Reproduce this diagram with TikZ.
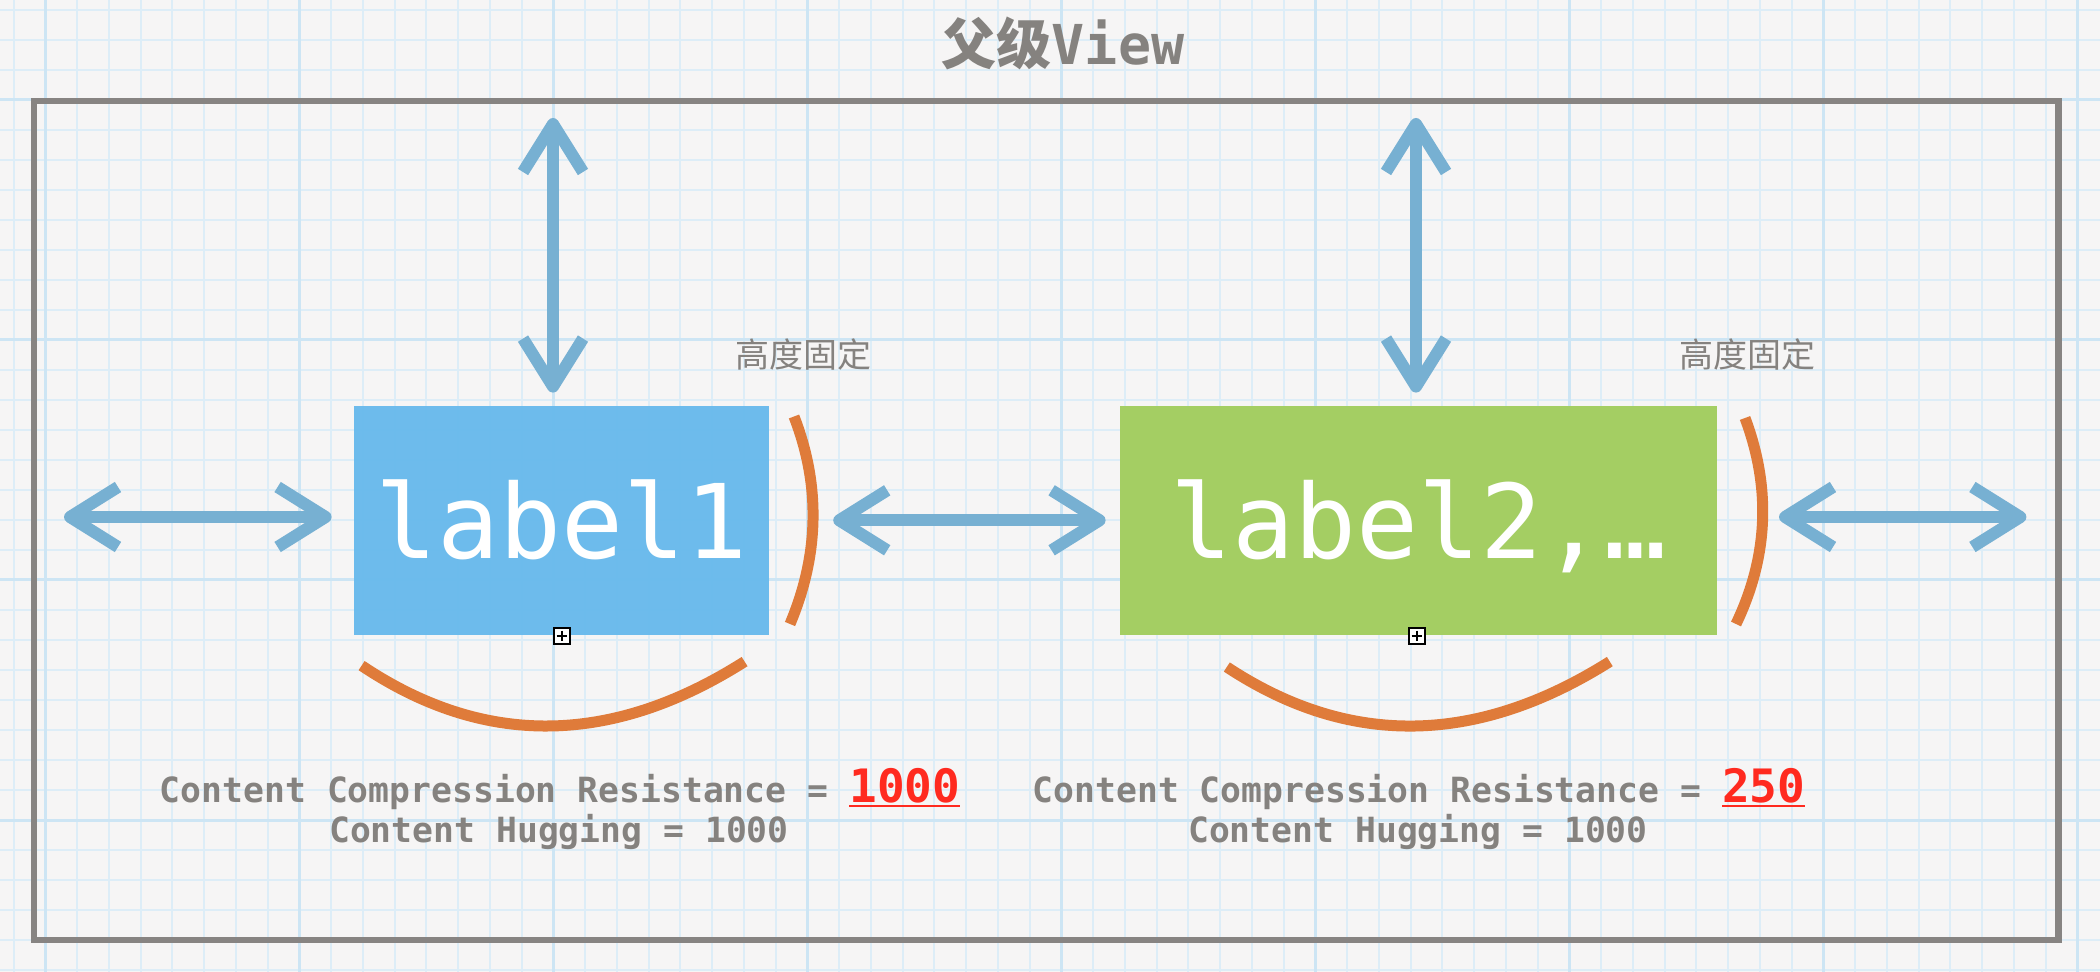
\documentclass[tikz,border=0pt]{standalone}
\usepackage{fontspec}
\setmonofont{DejaVu Sans Mono}
\newfontfamily\cjk{Noto Sans CJK SC}
\usetikzlibrary{arrows.meta}
\definecolor{bgc}{HTML}{F6F5F5}
\definecolor{gridminor}{HTML}{DDEDF7}
\definecolor{gridmajor}{HTML}{CDE5F4}
\definecolor{framegray}{HTML}{878482}
\definecolor{txtgray}{HTML}{85827F}
\definecolor{arrowblue}{HTML}{77B0D2}
\definecolor{boxblue}{HTML}{69BAEC}
\definecolor{boxgreen}{HTML}{A4CE63}
\definecolor{arcorange}{HTML}{DF7B3A}
\definecolor{numred}{HTML}{FF2A1F}
\newcommand\rednum[1]{{\fontsize{23pt}{26pt}\selectfont\bfseries\color{numred}\setbox0\hbox{#1}\rlap{\rule[-2.6pt]{\wd0}{1.3pt}}\box0}}
\begin{document}
\begin{tikzpicture}[x=0.5pt,y=-0.5pt,
  dblarrow/.style={draw=arrowblue, line width=6pt,
    {Straight Barb[length=24pt,width=30pt,line join=round]}-{Straight Barb[length=24pt,width=30pt,line join=round]}},
  arcline/.style={draw=arcorange, line width=5.5pt},
  labelbox/.style={minimum height=114.5pt, inner sep=0pt, text=white,
    font=\ttfamily\fontsize{51.5pt}{60pt}\selectfont, text height=38pt, text depth=0pt},
  bottomtxt/.style={anchor=base, text=txtgray, inner sep=0pt,
    font=\ttfamily\bfseries\fontsize{17.35pt}{20pt}\selectfont},
  hinttxt/.style={text=txtgray, inner sep=0pt, font=\cjk\fontsize{17pt}{20pt}\selectfont},
  marker/.style={draw=black, fill=white, line width=0.9pt, minimum size=8pt, inner sep=0pt}
]
\fill[bgc] (0,0) rectangle (2100,972);
\useasboundingbox (0,0) rectangle (2100,972);
% grid
\foreach \k in {0,...,65} \draw[gridminor, line width=1pt] ({13.55+31.75*\k},0) -- ++(0,972);
\foreach \k in {0,...,32} \draw[gridminor, line width=1pt] (0,{10+30*\k}) -- ++(2100,0);
\foreach \k in {0,...,8} \draw[gridmajor, line width=1.5pt] ({45.3+254*\k},0) -- ++(0,972);
\foreach \k in {0,...,3} \draw[gridmajor, line width=1.5pt] (0,{100+240*\k}) -- ++(2100,0);
% frame
\draw[framegray, line width=3.2pt] (34,101) rectangle (2058.5,940);
% title
\node[anchor=base, text=txtgray, inner sep=0pt] (title) at (1063,65)
  {\fontsize{27.5pt}{32pt}\selectfont{\cjk\bfseries 父级}{\ttfamily\bfseries View}};
% boxes
\node[labelbox, minimum width=207.6pt, fill=boxblue, fill opacity=0.97, text opacity=1] (lab1) at (561.2,520.3) {label1};
\node[labelbox, minimum width=298.7pt, fill=boxgreen] (lab2) at (1418.3,520.3) {label2,…};
% orange arcs
\draw[arcline] (794,416.5) .. controls (820.7,485.3) and (819.3,554.5) .. (790,624);
\draw[arcline] (361.6,665.6) .. controls (483.8,747.5) and (611.5,746.1) .. (744.6,661.6);
\draw[arcline] (1745,418) .. controls (1771.3,488) and (1768.3,556.7) .. (1736,624);
\draw[arcline] (1226.8,667) .. controls (1348.7,747.5) and (1476.4,745.7) .. (1609.8,661.6);
% markers
\node[marker] (m1) at (561.8,636) {};
\draw[line width=0.7pt] ([yshift=-1.8pt]m1.north) -- ([yshift=1.8pt]m1.south);
\draw[line width=0.7pt] ([xshift=1.8pt]m1.west) -- ([xshift=-1.8pt]m1.east);
\node[marker] (m2) at (1417,636) {};
\draw[line width=0.7pt] ([yshift=-1.8pt]m2.north) -- ([yshift=1.8pt]m2.south);
\draw[line width=0.7pt] ([xshift=1.8pt]m2.west) -- ([xshift=-1.8pt]m2.east);
% arrows
\coordinate (L) at (64,517);
\coordinate (R) at (2026.4,517);
\coordinate (T1) at (553,118);
\coordinate (T2) at (1416,118);
\draw[dblarrow, shorten >=10.8pt] (L) -- (L -| lab1.west);
\draw[dblarrow, shorten <=32pt, shorten >=6.8pt] (lab1.east) -- (lab2.west);
\draw[dblarrow, shorten <=30.8pt] (R -| lab2.east) -- (R);
\draw[dblarrow, shorten >=6.4pt] (T1) -- (T1 |- lab1.north);
\draw[dblarrow, shorten >=6.4pt] (T2) -- (T2 |- lab2.north);
% texts
\node[hinttxt] (h1) at (803.6,355) {高度固定};
\node[hinttxt] (h2) at (1747,355) {高度固定};
\node[bottomtxt] (cr1) at (560,802) {Content Compression Resistance = \rednum{1000}};
\node[bottomtxt] (hug1) at (559,842) {Content Hugging = 1000};
\node[bottomtxt] (cr2) at (1419,802) {Content Compression Resistance = \rednum{250}};
\node[bottomtxt] (hug2) at (1418,842) {Content Hugging = 1000};
\end{tikzpicture}
\end{document}
